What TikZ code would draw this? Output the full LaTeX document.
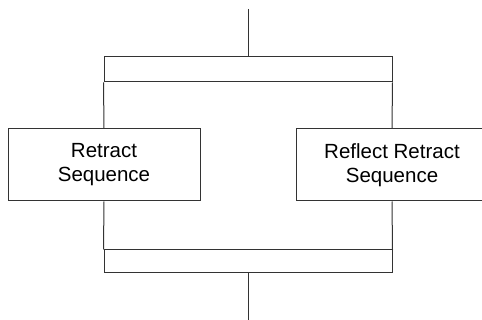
\documentclass[tikz,border=0pt]{standalone}
\usepackage{fontspec}
\setmainfont{Liberation Sans}
\begin{document}
\begin{tikzpicture}[x=1pt,y=-1pt,
  ln/.style={draw=black!80,line width=1pt},
  seqbox/.style={ln,rectangle,minimum width=192pt,minimum height=72pt,inner sep=0pt,
    align=center,font=\fontsize{20.5}{24}\selectfont},
  barbox/.style={ln,rectangle,minimum width=288pt,inner sep=0pt}]
\useasboundingbox (0,0) rectangle (482,320);
\clip (0,0) rectangle (482,320);
\coordinate (in) at (248,9);
\coordinate (out) at (248,320);
\node[barbox,minimum height=25pt] (topbar) at (248,69.5) {};
\node[barbox,minimum height=23pt] (botbar) at (248,261.5) {};
\node[seqbox] (left) at (104,165) {Retract\\Sequence};
\node[seqbox] (right) at (392,165) {Reflect Retract\\Sequence};
\draw[ln] (in) -- (topbar.north);
\draw[ln] (topbar.south west) -- (left.north);
\draw[ln] (topbar.south east) -- (right.north);
\draw[ln] (left.south) -- (botbar.north west);
\draw[ln] (right.south) -- (botbar.north east);
\draw[ln] (botbar.south) -- (out);
\end{tikzpicture}
\end{document}
